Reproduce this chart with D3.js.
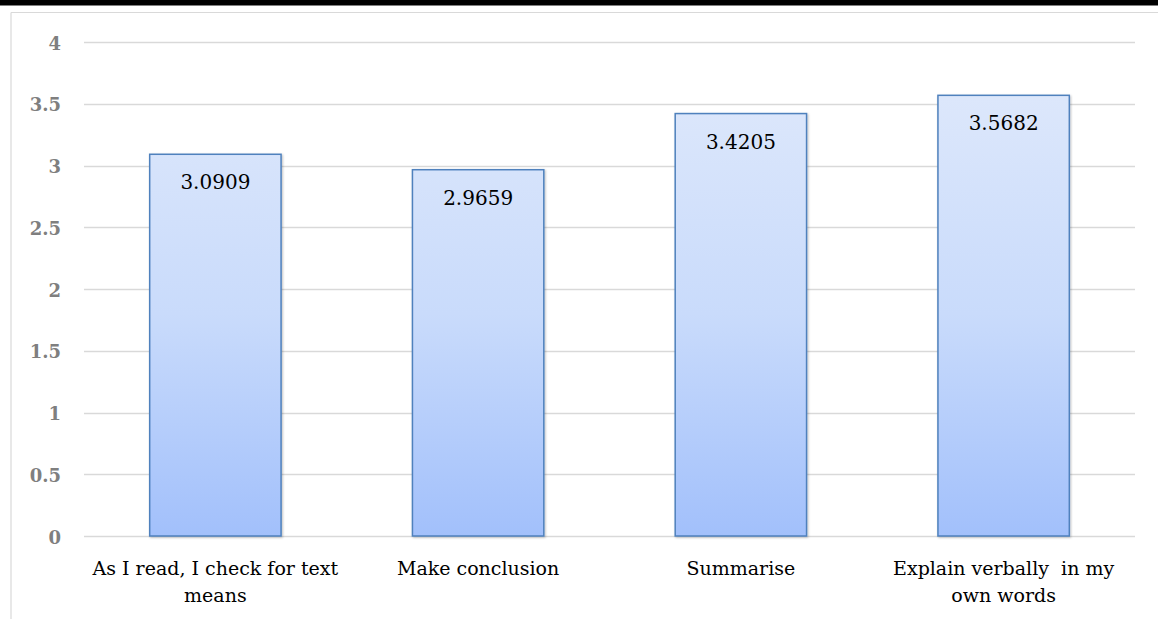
<!DOCTYPE html>
<html>
<head>
<meta charset="utf-8">
<script src="https://cdn.jsdelivr.net/npm/d3@7"></script>
<style>
  html, body { margin: 0; padding: 0; background: #fff; }
  svg { display: block; }
</style>
</head>
<body>
<svg id="chart" width="1158" height="619"></svg>
<script>
// Mean score per reading strategy
const categories = [
  ["As I read, I check for text", "means"],
  ["Make conclusion"],
  ["Summarise"],
  ["Explain verbally  in my", "own words"]
];
const values = [3.0909, 2.9659, 3.4205, 3.5682];
const valueLabels = ["3.0909", "2.9659", "3.4205", "3.5682"];
const yTicks = [0, 0.5, 1, 1.5, 2, 2.5, 3, 3.5, 4];
const yTickLabels = ["0", "0.5", "1", "1.5", "2", "2.5", "3", "3.5", "4"];

const svg = d3.select("#chart");
const W = 1158, H = 619;
const plot = { left: 84, right: 1135, top: 42, bottom: 536 };
const serif = "'DejaVu Serif', 'Liberation Serif', serif";

// page frame: dark rule at the top and a light box edge
svg.append("rect").attr("x", 0).attr("y", 0).attr("width", W).attr("height", 5.5).attr("fill", "#000");
svg.append("line").attr("x1", 11).attr("x2", W).attr("y1", 12.5).attr("y2", 12.5)
  .attr("stroke", "#d9d9d9").attr("stroke-width", 1.2);
svg.append("line").attr("x1", 11).attr("x2", 11).attr("y1", 12.5).attr("y2", H)
  .attr("stroke", "#d9d9d9").attr("stroke-width", 1.2);

const x = d3.scaleBand()
  .domain(d3.range(categories.length))
  .range([plot.left, plot.right])
  .paddingInner(0.5).paddingOuter(0.25);

const y = d3.scaleLinear().domain([0, 4]).range([plot.bottom, plot.top]);

// horizontal gridlines
svg.append("g")
  .selectAll("line")
  .data(yTicks)
  .join("line")
  .attr("x1", plot.left).attr("x2", plot.right)
  .attr("y1", d => Math.round(y(d)) + 0.5).attr("y2", d => Math.round(y(d)) + 0.5)
  .attr("stroke", "#d9d9d9").attr("stroke-width", 1.3);

// y axis labels
const yAxis = d3.axisLeft(y)
  .tickValues(yTicks)
  .tickFormat((d, i) => yTickLabels[i])
  .tickSize(0).tickPadding(23);
const ya = svg.append("g").attr("transform", `translate(${plot.left},0)`).call(yAxis);
ya.select(".domain").remove();
ya.selectAll("text")
  .attr("font-family", serif).attr("font-weight", "bold")
  .attr("font-size", 18).attr("fill", "#7f7f7f")
  .attr("dy", "0.4em");

// bar gradient
const defs = svg.append("defs");
const grad = defs.append("linearGradient").attr("id", "barFill")
  .attr("gradientUnits", "userSpaceOnUse")
  .attr("x1", 0).attr("x2", 0).attr("y1", y(4)).attr("y2", y(0));
grad.append("stop").attr("offset", "0%").attr("stop-color", "#e1eafb");
grad.append("stop").attr("offset", "55%").attr("stop-color", "#c9dbfb");
grad.append("stop").attr("offset", "100%").attr("stop-color", "#a2c0fb");

const shadow = defs.append("filter").attr("id", "barShadow")
  .attr("x", "-10%").attr("y", "-10%").attr("width", "120%").attr("height", "120%");
shadow.append("feDropShadow").attr("dx", 1).attr("dy", 1).attr("stdDeviation", 1.2)
  .attr("flood-color", "#000").attr("flood-opacity", 0.25);

svg.append("g")
  .selectAll("rect")
  .data(values)
  .join("rect")
  .attr("x", (d, i) => x(i))
  .attr("y", d => y(d))
  .attr("width", x.bandwidth())
  .attr("height", d => y(0) - y(d))
  .attr("fill", "url(#barFill)")
  .attr("stroke", "#4f81bd").attr("stroke-width", 1.5)
  .attr("filter", "url(#barShadow)");

// value labels inside bar tops
svg.append("g")
  .selectAll("text")
  .data(values)
  .join("text")
  .attr("x", (d, i) => x(i) + x.bandwidth() / 2)
  .attr("y", d => y(d) + 35)
  .attr("text-anchor", "middle")
  .attr("font-family", serif).attr("font-size", 20)
  .attr("fill", "#000")
  .text((d, i) => valueLabels[i]);

// category labels
const xa = svg.append("g");
categories.forEach((lines, i) => {
  const t = xa.append("text")
    .attr("x", x(i) + x.bandwidth() / 2)
    .attr("y", 575)
    .attr("text-anchor", "middle")
    .attr("font-family", serif).attr("font-size", 19)
    .attr("fill", "#000");
  lines.forEach((ln, j) => {
    t.append("tspan")
      .attr("x", x(i) + x.bandwidth() / 2)
      .attr("dy", j === 0 ? 0 : 27)
      .attr("xml:space", "preserve")
      .text(ln);
  });
});
</script>
</body>
</html>
